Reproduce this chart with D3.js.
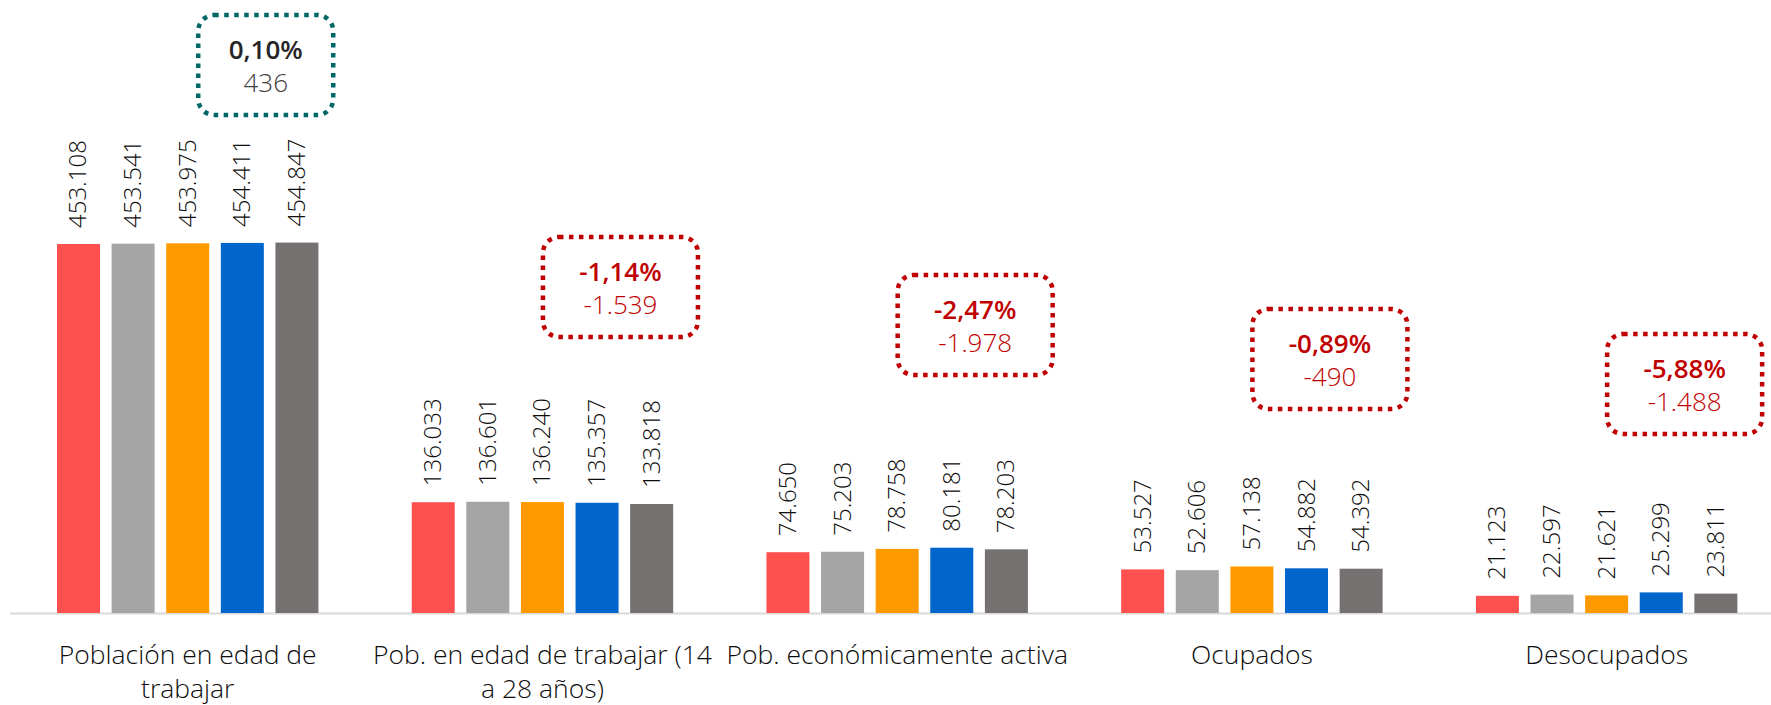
<!DOCTYPE html>
<html>
<head>
<meta charset="utf-8">
<script src="https://cdn.jsdelivr.net/npm/d3@7"></script>
<style>
  body { margin: 0; background: #fff; }
  svg { display: block; font-family: "Open Sans", "Noto Sans", sans-serif; }
</style>
</head>
<body>
<div class="chart"></div>
<script>
// Data.
const categories = [
  ["Población en edad de", "trabajar"],
  ["Pob. en edad de trabajar (14", "a 28 años)"],
  ["Pob. económicamente activa"],
  ["Ocupados"],
  ["Desocupados"],
];
const periods = ["P1", "P2", "P3", "P4", "P5"];
const poblacion = [453108, 453541, 453975, 454411, 454847];
const jovenes = [136033, 136601, 136240, 135357, 133818];
const activa = [74650, 75203, 78758, 80181, 78203];
const ocupados = [53527, 52606, 57138, 54882, 54392];
const desocupados = [21123, 22597, 21621, 25299, 23811];
const colors = ["#ff5050", "#a5a5a5", "#ff9900", "#0066cc", "#767171"];

const series = [poblacion, jovenes, activa, ocupados, desocupados];

// Box tops for the change annotations (layout).
const boxTop = [13, 235, 273, 307, 332];

const width = 1771;
const height = 705;
const base = 613;

const locale = d3.formatLocale({ decimal: ",", thousands: ".", grouping: [3], currency: ["", ""] });
const fmtNum = locale.format(",d");
const fmtPct = locale.format(".2%");

const svg = d3
  .select(".chart")
  .append("svg")
  .attr("width", width)
  .attr("height", height);

// Scales.
const x0 = d3
  .scaleBand()
  .domain(d3.range(categories.length))
  .range([10.35, 1784]);

const x1 = d3
  .scaleBand()
  .domain(periods)
  .range([0, x0.bandwidth()])
  .paddingInner(0.2125)
  .paddingOuter(0.854);

const y = d3.scaleLinear().domain([0, 500000]).range([base, base - 407.2]);

// Axis line.
svg
  .append("line")
  .attr("x1", 10)
  .attr("x2", width)
  .attr("y1", base + 0.5)
  .attr("y2", base + 0.5)
  .style("stroke", "#d9d9d9")
  .style("stroke-width", 2);

// Bars.
const groups = svg
  .selectAll(".group")
  .data(series)
  .enter()
  .append("g")
  .attr("class", "group")
  .attr("transform", (d, i) => `translate(${x0(i)},0)`);

groups
  .selectAll("rect")
  .data((d) => d.map((v, j) => ({ v, p: periods[j], c: colors[j] })))
  .enter()
  .append("rect")
  .attr("x", (d) => x1(d.p))
  .attr("width", x1.bandwidth())
  .attr("y", (d) => y(d.v))
  .attr("height", (d) => base - y(d.v))
  .style("fill", (d) => d.c);

// Data labels, rotated.
groups
  .selectAll(".val")
  .data((d) => d.map((v, j) => ({ v, p: periods[j] })))
  .enter()
  .append("text")
  .attr("class", "val")
  .attr(
    "transform",
    (d) => `translate(${x1(d.p) + x1.bandwidth() / 2 + 8},${y(d.v) - 16}) rotate(-90)`
  )
  .style("font-size", "24px")
  .style("font-weight", 300)
  .style("fill", "#0d0d0d")
  .text((d) => fmtNum(d.v));

// Category labels.
const catText = svg
  .selectAll(".cat")
  .data(categories)
  .enter()
  .append("text")
  .attr("class", "cat")
  .attr("text-anchor", "middle")
  .style("font-size", "26.5px")
  .style("font-weight", 300)
  .style("fill", "#0d0d0d");

catText
  .selectAll("tspan")
  .data((d, i) => d.map((t) => ({ t, i })))
  .enter()
  .append("tspan")
  .attr("x", (d) => x0(d.i) + x0.bandwidth() / 2)
  .attr("y", (d, k) => 664 + k * 34)
  .text((d) => d.t);

// Change annotations (last vs previous period).
const boxH = 100;

const notes = svg
  .selectAll(".note")
  .data(series)
  .enter()
  .append("g")
  .attr("class", "note")
  .attr("transform", (d, i) => `translate(${x0(i) + x0.bandwidth() / 2 + 78},${boxTop[i]})`);

notes
  .append("rect")
  .attr("x", (d, i) => -(i == 0 ? 135 : 155) / 2)
  .attr("width", (d, i) => (i == 0 ? 135 : 155))
  .attr("y", 2)
  .attr("height", boxH)
  .attr("rx", 16)
  .style("fill", "none")
  .style("stroke", (d) => (d[4] - d[3] >= 0 ? "#006666" : "#c00000"))
  .style("stroke-width", 4.5)
  .style("stroke-dasharray", "4.5,5.5");

notes
  .append("text")
  .attr("text-anchor", "middle")
  .attr("y", 46)
  .style("font-size", "26px")
  .style("font-weight", 600)
  .style("fill", (d) => (d[4] - d[3] >= 0 ? "#262626" : "#c00000"))
  .text((d) => fmtPct((d[4] - d[3]) / d[3]).replace("−", "-"));

notes
  .append("text")
  .attr("text-anchor", "middle")
  .attr("y", 79)
  .style("font-size", "26px")
  .style("font-weight", 300)
  .style("fill", (d) => (d[4] - d[3] >= 0 ? "#404040" : "#c00000"))
  .text((d) => fmtNum(d[4] - d[3]).replace("−", "-"));
</script>
</body>
</html>
